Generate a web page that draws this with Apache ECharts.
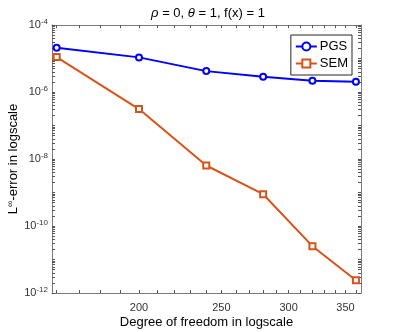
<!DOCTYPE html>
<html><head><meta charset="utf-8">
<script src="https://cdn.jsdelivr.net/npm/echarts@6/dist/echarts.min.js"></script>
<style>html,body{margin:0;padding:0;background:#fff}#c{width:399px;height:332px}</style>
</head><body><div id="c"></div>
<script>
const dof = [160, 200, 240, 280, 320, 360];
const pgs = [2.1e-5, 1.08e-5, 4.2e-6, 2.85e-6, 2.17e-6, 2.02e-6];
const sem = [1.1e-5, 3.1e-7, 6.4e-9, 8.9e-10, 2.5e-11, 2.4e-12];
const xMajorTicks = [200, 250, 300, 350];
const xMinorTicks = [160,170,180,190,210,220,230,240,260,270,280,290,310,320,330,340,360];
const yMajorExp = [-12, -10, -8, -6, -4];
const xRange = [158, 365];
const yRange = [-12, -4];

const L = Math.log10;
const yTicks = [];
for (let e = yRange[0]; e < yRange[1]; e++) {
  for (let k = 1; k <= 9; k++) yTicks.push(e + L(k));
}
yTicks.push(yRange[1]);
const xTicks = xMajorTicks.concat(xMinorTicks).map(L);
const font = 'Liberation Sans, Arial, sans-serif';
const axisCol = '#262626';

const chart = echarts.init(document.getElementById('c'));
const baseX = {
  type: 'value', min: L(xRange[0]), max: L(xRange[1]),
  axisLine: {show: true, onZero: false, lineStyle: {color: '#7a7a7a', width: 1}},
  axisTick: {show: true, inside: true, length: 3, customValues: xTicks, lineStyle: {color: '#555'}},
  splitLine: {show: false}
};
const baseY = {
  type: 'value', min: yRange[0], max: yRange[1],
  axisLine: {show: true, onZero: false, lineStyle: {color: '#7a7a7a', width: 1}},
  axisTick: {show: true, inside: true, length: 3, customValues: yTicks, lineStyle: {color: '#555'}},
  splitLine: {show: false}
};
chart.setOption({
  animation: false,
  textStyle: {fontFamily: font},
  title: {
    text: '{i|ρ}{n| = 0, }{i|θ}{n| = 1, f(x) = 1}',
    left: 203, top: 2, textAlign: 'center',
    textStyle: {
      fontWeight: 'normal',
      rich: {
        i: {fontStyle: 'italic', fontWeight: 'normal', fontSize: 13, color: '#000', fontFamily: font},
        n: {fontWeight: 'normal', fontSize: 13, color: '#000', fontFamily: font}
      }
    }
  },
  grid: {left: 52, right: 38, top: 25, bottom: 39, outerBoundsMode: 'none', containLabel: false},
  legend: {
    right: 47, top: 35, orient: 'vertical',
    backgroundColor: '#fff', borderColor: axisCol, borderWidth: 1,
    padding: [5, 4, 5, 4], itemGap: 4, itemWidth: 21, itemHeight: 10,
    textStyle: {fontSize: 13, color: '#000', fontFamily: font, padding: [0, 0, 0, -2]},
    data: ['PGS', 'SEM']
  },
  xAxis: [
    Object.assign({}, baseX, {
      position: 'bottom',
      name: 'Degree of freedom in logscale', nameLocation: 'middle', nameGap: 23, nameMoveOverlap: false,
      nameTextStyle: {fontSize: 13, color: '#000', fontFamily: font},
      axisLabel: {show: true, customValues: xMajorTicks.map(L), margin: 9, fontSize: 11, color: '#333',
        formatter: v => String(Math.round(Math.pow(10, v)))}
    }),
    Object.assign({}, baseX, {position: 'top', axisLabel: {show: false}})
  ],
  yAxis: [
    Object.assign({}, baseY, {
      position: 'left',
      name: '{n|L}{s|∞}{n|-error in logscale}', nameLocation: 'middle', nameGap: 32, nameMoveOverlap: false,
      nameTextStyle: {rich: {
        n: {fontSize: 13, color: '#000', fontFamily: font},
        s: {fontSize: 9, color: '#000', fontFamily: font, verticalAlign: 'top', padding: [0, 0, 5, 0]}
      }},
      axisLabel: {show: true, customValues: yMajorExp, margin: 4, color: '#333',
        formatter: v => '{b|10}{s|' + v + '}',
        rich: {
          b: {fontSize: 11, color: '#333', fontFamily: font},
          s: {fontSize: 8, color: '#333', fontFamily: font, verticalAlign: 'top', padding: [0, 0, 7, 0]}
        }}
    }),
    Object.assign({}, baseY, {position: 'right', axisLabel: {show: false}})
  ],
  series: [
    {
      name: 'PGS', type: 'line', xAxisIndex: 0, yAxisIndex: 0,
      data: dof.map((d, i) => [L(d), L(pgs[i])]),
      lineStyle: {color: '#0000ff', width: 2},
      symbol: 'circle', symbolSize: 6, showAllSymbol: true,
      itemStyle: {color: '#fff', borderColor: '#0000ff', borderWidth: 2},
      z: 3
    },
    {
      name: 'SEM', type: 'line', xAxisIndex: 0, yAxisIndex: 0,
      data: dof.map((d, i) => [L(d), L(sem[i])]),
      lineStyle: {color: '#D95319', width: 2},
      symbol: 'rect', symbolSize: 6, showAllSymbol: true,
      itemStyle: {color: '#fff', borderColor: '#D95319', borderWidth: 2},
      z: 2
    }
  ]
});
</script></body></html>
